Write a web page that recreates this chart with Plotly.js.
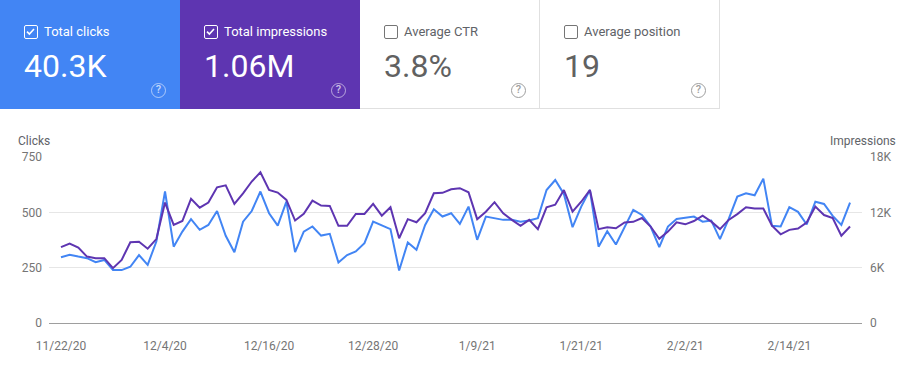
<!DOCTYPE html>
<html>
<head>
<meta charset="utf-8">
<script src="https://cdn.plot.ly/plotly-3.0.1.min.js"></script>
<style>
  html, body { margin: 0; padding: 0; background: #fff; }
  #wrap { position: relative; width: 911px; height: 376px; overflow: hidden; font-family: Roboto, "Noto Sans", sans-serif; }
  #chart { position: absolute; left: 0; top: 0; width: 911px; height: 376px; }
  .card { position: absolute; top: 0; height: 109px; width: 180px; box-sizing: border-box; z-index: 2; }
  .card .cb { position: absolute; left: 24px; top: 25px; width: 14px; height: 14px; box-sizing: border-box; border-radius: 2px; }
  .card .lbl { position: absolute; left: 44px; top: 24px; font-size: 13px; line-height: 16px; white-space: nowrap; }
  .card .val { position: absolute; left: 24px; top: 47px; font-size: 32px; line-height: 38px; white-space: nowrap; }
  .card .help { position: absolute; left: 151px; top: 83px; width: 15px; height: 15px; box-sizing: border-box; border-radius: 50%; font-size: 11px; line-height: 12px; text-align: center; font-weight: 500; }
  .on { color: #fff; }
  .on .cb { border: 1.5px solid #fff; }
  .on .help { border: 1.5px solid rgba(255,255,255,0.55); color: rgba(255,255,255,0.7); }
  .off { background: #fff; border-right: 1px solid #e0e0e0; border-bottom: 1px solid #e0e0e0; }
  .off .cb { border: 1.5px solid #757575; }
  .off .lbl { color: #5f6368; }
  .off .val { color: #616161; }
  .off .help { border: 1.5px solid #9e9e9e; color: #9e9e9e; }
  .cb svg { position: absolute; left: 0; top: 0; }
</style>
</head>
<body>
<div id="wrap">
  <div id="chart"></div>
  <div class="card on" style="left:0;background:#4285f4;">
    <div class="cb"><svg width="11" height="11" viewBox="0 0 11 11"><path d="M2 5.6 L4.4 8 L9 3" stroke="#fff" stroke-width="1.6" fill="none"/></svg></div>
    <div class="lbl">Total clicks</div>
    <div class="val">40.3K</div>
    <div class="help">?</div>
  </div>
  <div class="card on" style="left:180px;background:#5e35b1;">
    <div class="cb"><svg width="11" height="11" viewBox="0 0 11 11"><path d="M2 5.6 L4.4 8 L9 3" stroke="#fff" stroke-width="1.6" fill="none"/></svg></div>
    <div class="lbl">Total impressions</div>
    <div class="val">1.06M</div>
    <div class="help">?</div>
  </div>
  <div class="card off" style="left:360px;">
    <div class="cb"></div>
    <div class="lbl">Average CTR</div>
    <div class="val">3.8%</div>
    <div class="help">?</div>
  </div>
  <div class="card off" style="left:540px;">
    <div class="cb"></div>
    <div class="lbl">Average position</div>
    <div class="val">19</div>
    <div class="help">?</div>
  </div>
</div>
<script>
// ---- data ----
const startDate = "2020-11-22";
const clicks = [297, 308, 300, 293, 275, 285, 239, 239, 254, 307, 263, 368, 594, 345, 413, 469, 421, 443, 506, 394,
  320, 458, 506, 594, 496, 440, 548, 320, 413, 436, 395, 403, 273, 307, 323, 361, 458, 440, 424, 237,
  364, 331, 443, 514, 481, 496, 448, 526, 376, 481, 474, 466, 466, 458, 463, 474, 601, 646, 583, 433,
  526, 601, 345, 415, 355, 436, 511, 488, 436, 343, 436, 470, 475, 481, 458, 463, 379, 469, 571, 586,
  577, 652, 439, 436, 523, 502, 445, 548, 538, 484, 443, 544];
const impressions = [8230, 8620, 8180, 7200, 7030, 7030, 5950, 6840, 8760, 8810, 8060, 9100, 13060, 10630, 11060, 13460, 12500, 13060, 14710, 14930,
  12910, 14060, 15340, 16340, 14420, 14140, 13340, 11110, 11830, 13270, 12740, 12700, 10540, 10540, 11830, 11830, 12910, 11640, 12550, 9190,
  11260, 10920, 11900, 14060, 14110, 14500, 14620, 14180, 11260, 12070, 13100, 11900, 11180, 10540, 11180, 10180, 12550, 12820, 14420, 12070,
  13150, 14420, 10180, 10390, 10270, 10900, 10970, 11380, 10460, 9120, 9910, 10920, 10700, 11060, 11640, 10990, 10180, 11180, 11810, 12550,
  12410, 12410, 10560, 9620, 10100, 10250, 10900, 12620, 11710, 11380, 9460, 10460];
const xTickVals = ["2020-11-22", "2020-12-04", "2020-12-16", "2020-12-28", "2021-01-09", "2021-01-21", "2021-02-02", "2021-02-14"];
const xTickText = ["11/22/20", "12/4/20", "12/16/20", "12/28/20", "1/9/21", "1/21/21", "2/2/21", "2/14/21"];
const y1TickVals = [0, 250, 500, 750];
const y2TickVals = [0, 6000, 12000, 18000];
const y2TickText = ["0", "6K", "12K", "18K"];

// consecutive daily dates
function addDays(iso, n) {
  const d = new Date(iso + "T00:00:00Z");
  d.setUTCDate(d.getUTCDate() + n);
  return d.toISOString().slice(0, 10);
}
const dates = clicks.map((_, i) => addDays(startDate, i));

const t0 = new Date(startDate + "T00:00:00Z").getTime();
const pad = 1.38 * 86400000;
const xr = [new Date(t0 - pad).toISOString(), new Date(t0 + (dates.length - 1) * 86400000 + pad).toISOString()];

const tickFont = { family: "Roboto, sans-serif", size: 12, color: "#757575" };

const traces = [
  { x: dates, y: impressions, yaxis: "y2", type: "scatter", mode: "lines", name: "Impressions",
    line: { color: "#5e35b1", width: 2 }, hoverinfo: "skip" },
  { x: dates, y: clicks, yaxis: "y", type: "scatter", mode: "lines", name: "Clicks",
    line: { color: "#4285f4", width: 2 }, hoverinfo: "skip" }
];

const layout = {
  width: 911, height: 376,
  margin: { l: 49, r: 49, t: 157, b: 53 },
  paper_bgcolor: "#fff", plot_bgcolor: "#fff",
  showlegend: false,
  font: { family: "Roboto, sans-serif" },
  xaxis: {
    type: "date", range: xr, tickvals: xTickVals, ticktext: xTickText,
    tickfont: tickFont, showgrid: false, zeroline: false, showline: false,
    ticks: "", ticklabelstandoff: 14, fixedrange: true
  },
  yaxis: {
    range: [0, 750], tickvals: y1TickVals, tickfont: tickFont,
    showgrid: true, gridcolor: "#e6e6e6", gridwidth: 1,
    zeroline: true, zerolinecolor: "#9e9e9e", zerolinewidth: 1,
    showline: false, ticks: "", ticklabelstandoff: 6, fixedrange: true
  },
  yaxis2: {
    range: [0, 18000], overlaying: "y", side: "right",
    tickvals: y2TickVals, ticktext: y2TickText, tickfont: tickFont,
    showgrid: false, zeroline: false, showline: false, ticks: "", ticklabelstandoff: 7, fixedrange: true
  },
  annotations: [
    { text: "Clicks", xref: "paper", yref: "paper", x: -0.04, y: 1.0, yshift: 16,
      xanchor: "left", yanchor: "middle", showarrow: false,
      font: { family: "Roboto, sans-serif", size: 12, color: "#5f6368" }, xshift: 0 },
    { text: "Impressions", xref: "paper", yref: "paper", x: 1.0, y: 1.0, yshift: 16, xshift: 36,
      xanchor: "right", yanchor: "middle", showarrow: false,
      font: { family: "Roboto, sans-serif", size: 12, color: "#5f6368" } }
  ]
};

Plotly.newPlot("chart", traces, layout, { displayModeBar: false, staticPlot: true });
</script>
</body>
</html>
